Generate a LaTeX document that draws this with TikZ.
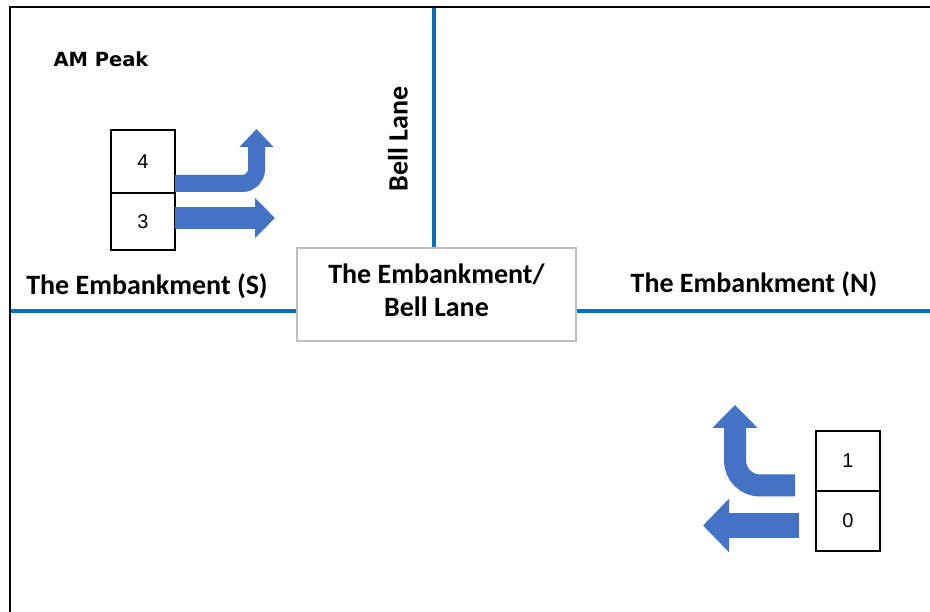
\documentclass[tikz,border=0pt]{standalone}
\usepackage{fontspec}
\setmainfont{Carlito}
\newfontfamily\peakfont{DejaVu Sans}
\newfontfamily\numfont{Liberation Sans}
\usetikzlibrary{arrows.meta,calc}
\definecolor{roadblue}{HTML}{0070C0}
\definecolor{flowblue}{HTML}{4472C4}
\definecolor{boxgray}{HTML}{BFBFBF}

\begin{document}
\begin{tikzpicture}[x=1pt,y=-1pt,
  road/.style={draw=roadblue,line width=4pt},
  frameline/.style={draw=black,line width=2pt},
  roadlabel/.style={font=\fontsize{28}{32}\selectfont\bfseries,inner sep=0pt},
  junction/.style={draw=boxgray,line width=1.5pt,fill=white,inner sep=0pt,
    minimum width=279pt,minimum height=93pt},
  junctext/.style={inner sep=0pt,align=center,
    font=\fontsize{28}{33}\selectfont\bfseries},
  countbox/.style={draw=black,line width=1.5pt,inner sep=0pt,outer sep=0pt,
    minimum width=64pt,font=\numfont\fontsize{20}{22}\selectfont},
  flow/.style={draw=flowblue,line width=#1},
]
\useasboundingbox[fill=white] (0,0) rectangle (930,612);

% outline of the panel (top and left edges)
\coordinate (fo) at (9.5,7.5);
\draw[frameline] (931,7.5) -- (fo) -- (9.5,613);

% junction box and the three road arms
\node[junction] (jn) at (436.5,294.5) {};
\node[junctext] (jnname) at (436.5,290.5) {The Embankment/\\Bell Lane};
\coordinate (roadS) at (10.5,311);
\coordinate (roadN) at (931,311);
\coordinate (roadB) at (434,8.5);
\draw[road] (roadS) -- (roadS -| jn.west);
\draw[road] (jn.east |- roadN) -- (roadN);
\draw[road] (roadB) -- (roadB |- jn.north);

% road names
\node[roadlabel] (lblS) at (147,286) {The Embankment (S)};
\node[roadlabel] (lblN) at (754,284) {The Embankment (N)};
\node[roadlabel,rotate=90] (lblB) at (398,139) {Bell Lane};

% period title
\node[font=\peakfont\bfseries\fontsize{19.5}{22}\selectfont,inner sep=0pt] (peak) at (101,59) {AM Peak};

% southern approach counts
\node[countbox,minimum height=63pt] (c4) at (143,161.5) {4};
\node[countbox,minimum height=57pt] (c3) at (143,221.5) {3};

% northern approach counts
\node[countbox,minimum height=60pt] (c1) at (848,461) {1};
\node[countbox,minimum height=60pt] (c0) at (848,521) {0};

% southern approach movements
\coordinate (t4) at (256.5,129);
\coordinate (t3) at (275,218);
\draw[flow=17pt,rounded corners=14pt,-{Triangle[width=33pt,length=18pt]}]
  ($(c4.south east)+(0,-9.5)$) -- (t4 |- 0,183.5) -- (t4);
\draw[flow=22pt,-{Triangle[width=39pt,length=20pt]}]
  ($(c3.east)+(0,-3.5)$) -- (t3);

% northern approach movements
\coordinate (t1) at (735,405);
\coordinate (t0) at (703,525.5);
\draw[flow=22pt,rounded corners=25pt,-{Triangle[width=44pt,length=23pt]}]
  ($(c1.west)+(-21,24.5)$) -- (t1 |- 0,485.5) -- (t1);
\draw[flow=25pt,-{Triangle[width=52pt,length=26pt]}]
  ($(c0.west)+(-17,4.5)$) -- (t0);
\end{tikzpicture}
\end{document}
